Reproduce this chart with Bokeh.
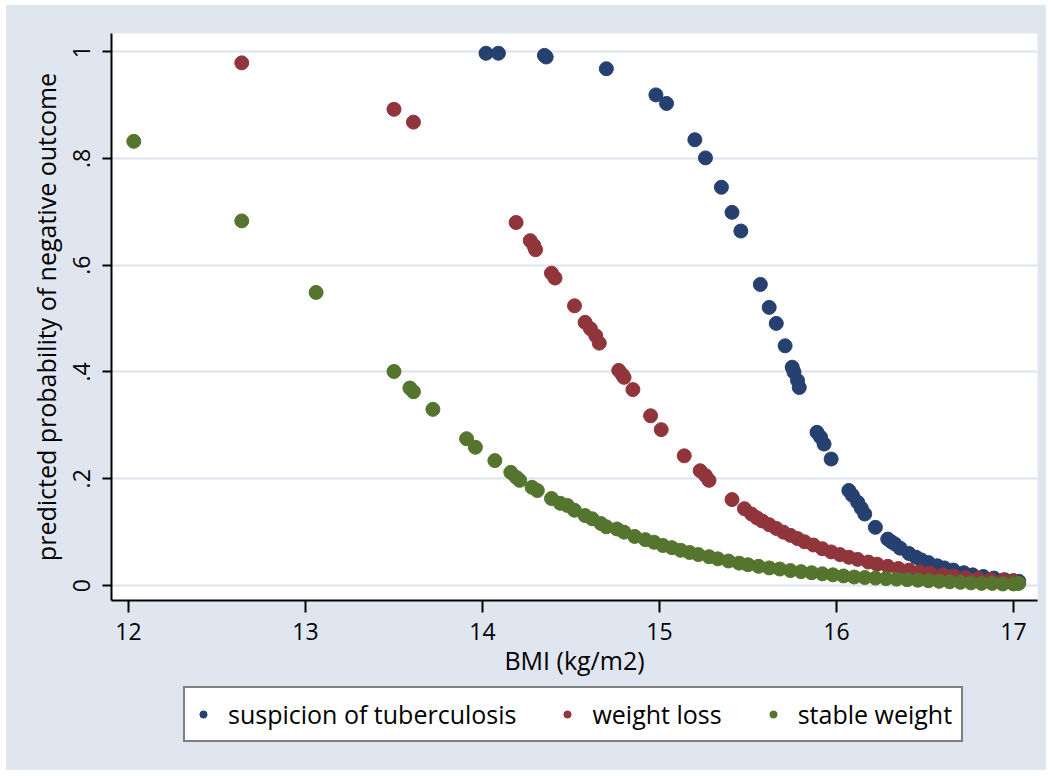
from bokeh.plotting import figure
from bokeh.layouts import column
from bokeh.models import Range1d, FixedTicker, Legend, LegendItem
from bokeh.embed import file_html
from bokeh.resources import INLINE

# ---- data ----
series_names = ["suspicion of tuberculosis", "weight loss", "stable weight"]

tb_bmi = [14.02, 14.09, 14.35, 14.36, 14.70, 14.98, 15.04, 15.20, 15.26, 15.35,
          15.41, 15.46, 15.57, 15.62, 15.66, 15.71, 15.75, 15.76, 15.78, 15.79,
          15.89, 15.91, 15.93, 15.97, 16.07, 16.09, 16.12, 16.14, 16.16, 16.22,
          16.29, 16.31, 16.33, 16.36, 16.41, 16.45, 16.48, 16.52, 16.57, 16.61,
          16.66, 16.72, 16.77, 16.83, 16.89, 16.95, 17.00, 17.03]
tb_prob = [0.997, 0.997, 0.993, 0.990, 0.968, 0.919, 0.903, 0.835, 0.801, 0.746,
           0.699, 0.664, 0.564, 0.521, 0.491, 0.449, 0.409, 0.400, 0.384, 0.371,
           0.287, 0.278, 0.265, 0.237, 0.178, 0.169, 0.156, 0.145, 0.134, 0.109,
           0.087, 0.082, 0.078, 0.070, 0.060, 0.053, 0.048, 0.043, 0.037, 0.033,
           0.029, 0.024, 0.020, 0.017, 0.014, 0.011, 0.009, 0.008]

wl_bmi = [12.64, 13.50, 13.61, 14.19, 14.27, 14.29, 14.30, 14.39, 14.41, 14.52,
          14.58, 14.61, 14.64, 14.66, 14.77, 14.79, 14.80, 14.85, 14.95, 15.01,
          15.14, 15.23, 15.26, 15.28, 15.41, 15.48, 15.52, 15.55, 15.58, 15.62,
          15.66, 15.70, 15.74, 15.78, 15.82, 15.87, 15.92, 15.97, 16.02, 16.07,
          16.12, 16.18, 16.23, 16.29, 16.35, 16.41, 16.47, 16.53, 16.60, 16.66,
          16.73, 16.80, 16.87, 16.94, 17.00]
wl_prob = [0.979, 0.892, 0.868, 0.680, 0.646, 0.637, 0.629, 0.585, 0.576, 0.524,
           0.493, 0.481, 0.468, 0.454, 0.403, 0.395, 0.390, 0.367, 0.318, 0.292,
           0.243, 0.215, 0.206, 0.197, 0.161, 0.144, 0.134, 0.127, 0.121, 0.114,
           0.107, 0.100, 0.094, 0.088, 0.082, 0.076, 0.069, 0.063, 0.058, 0.053,
           0.049, 0.044, 0.040, 0.036, 0.032, 0.029, 0.026, 0.023, 0.020, 0.018,
           0.015, 0.013, 0.011, 0.010, 0.009]

sw_bmi = [12.03, 12.64, 13.06, 13.50, 13.59, 13.61, 13.72, 13.91, 13.96, 14.07,
          14.16, 14.19, 14.21, 14.28, 14.31, 14.39, 14.44, 14.48, 14.52, 14.58,
          14.62, 14.67, 14.70, 14.76, 14.80, 14.86, 14.92, 14.97, 15.02, 15.07,
          15.12, 15.17, 15.22, 15.28, 15.33, 15.39, 15.45, 15.50, 15.56, 15.62,
          15.68, 15.74, 15.80, 15.86, 15.92, 15.98, 16.04, 16.10, 16.16, 16.22,
          16.28, 16.34, 16.40, 16.46, 16.52, 16.58, 16.64, 16.70, 16.76, 16.82,
          16.88, 16.94, 17.00, 17.03]
sw_prob = [0.832, 0.683, 0.549, 0.401, 0.370, 0.363, 0.330, 0.275, 0.259, 0.234,
           0.212, 0.203, 0.197, 0.184, 0.178, 0.163, 0.154, 0.150, 0.141, 0.131,
           0.125, 0.116, 0.110, 0.106, 0.100, 0.092, 0.086, 0.081, 0.075, 0.071,
           0.066, 0.062, 0.058, 0.054, 0.050, 0.046, 0.042, 0.039, 0.036, 0.033,
           0.031, 0.028, 0.026, 0.024, 0.022, 0.020, 0.018, 0.016, 0.015, 0.014,
           0.013, 0.012, 0.011, 0.010, 0.009, 0.008, 0.007, 0.006, 0.005, 0.004,
           0.004, 0.003, 0.003, 0.004]

x_ticks = [12, 13, 14, 15, 16, 17]
y_ticks = [0, 0.2, 0.4, 0.6, 0.8, 1.0]
y_tick_labels = ["0", ".2", ".4", ".6", ".8", "1"]

x_title = "BMI (kg/m2)"
y_title = "predicted probability of negative outcome"

series = [(tb_bmi, tb_prob), (wl_bmi, wl_prob), (sw_bmi, sw_prob)]

# ---- styling ----
BG = "#E0E6F0"
GRID = "#DCE2EE"
COLORS = ["#26406F", "#90353B", "#55752F"]
FONT = "Open Sans"
W = 1040

x_rng = Range1d(11.904, 17.136)
y_rng = Range1d(-0.028, 1.034)

p = figure(width=W, height=680, x_range=x_rng, y_range=y_rng,
           output_backend="svg", toolbar_location=None,
           min_border_left=105, min_border_right=9,
           min_border_top=28, min_border_bottom=85)

p.background_fill_color = "white"
p.border_fill_color = BG
p.outline_line_color = None

for (xs, ys), c in zip(series, COLORS):
    p.scatter(xs, ys, size=14, fill_color=c, line_color=c, marker="circle")

# axes
p.xaxis.ticker = FixedTicker(ticks=x_ticks)
p.yaxis.ticker = FixedTicker(ticks=y_ticks)
p.yaxis.major_label_overrides = {t: l for t, l in zip(y_ticks, y_tick_labels)}
p.yaxis.major_label_orientation = "vertical"

for ax in (p.xaxis[0], p.yaxis[0]):
    ax.axis_line_color = "black"
    ax.axis_line_width = 2
    ax.major_tick_line_color = "black"
    ax.major_tick_line_width = 2
    ax.major_tick_in = 0
    ax.minor_tick_line_color = None
    ax.major_label_text_font = FONT
    ax.major_label_text_font_size = "23px"
    ax.major_label_text_color = "black"
    ax.axis_label_text_font = FONT
    ax.axis_label_text_font_size = "25px"
    ax.axis_label_text_font_style = "normal"
    ax.axis_label_text_color = "black"

p.xaxis.major_tick_out = 12
p.yaxis.major_tick_out = 9
p.xaxis.major_label_standoff = 10
p.yaxis.major_label_standoff = 12
p.xaxis.axis_label = x_title
p.yaxis.axis_label = y_title
p.xaxis.axis_label_standoff = 0
p.yaxis.axis_label_standoff = 8

p.xgrid.visible = False
p.ygrid.ticker = FixedTicker(ticks=y_ticks)
p.ygrid.grid_line_color = GRID
p.ygrid.grid_line_width = 2

# legend strip below the plot (same background), holding the real legend
lf = figure(width=W, height=85, x_range=x_rng, y_range=y_rng,
            x_axis_type=None, y_axis_type=None,
            output_backend="svg", toolbar_location=None,
            min_border_left=105, min_border_right=9,
            min_border_top=0, min_border_bottom=0)
lf.background_fill_color = BG
lf.background_fill_alpha = 0
lf.border_fill_color = BG
lf.outline_line_color = None
lf.xgrid.visible = False
lf.ygrid.visible = False

# same series, not shown in this strip; they only supply the legend glyphs
lrends = [lf.scatter(xs, ys, size=14, fill_color=c, line_color=c, marker="circle", visible=False)
          for (xs, ys), c in zip(series, COLORS)]

legend = Legend(
    items=[LegendItem(label=n, renderers=[r]) for n, r in zip(series_names, lrends)],
    orientation="horizontal", location=(72, 28),
    border_line_color="black", border_line_width=2,
    background_fill_color="white", background_fill_alpha=1,
    inactive_fill_alpha=0,
    padding=9, spacing=42, label_standoff=16,
    glyph_width=18, glyph_height=34, label_height=34,
    label_text_font=FONT, label_text_font_size="25px", label_text_color="black",
    margin=0,
)
lf.add_layout(legend, "center")

layout = column(p, lf, spacing=0)
layout.margin = (5, 0, 0, 6)
layout.styles = {"background-color": BG}

open("out.html", "w").write(file_html(layout, INLINE))
